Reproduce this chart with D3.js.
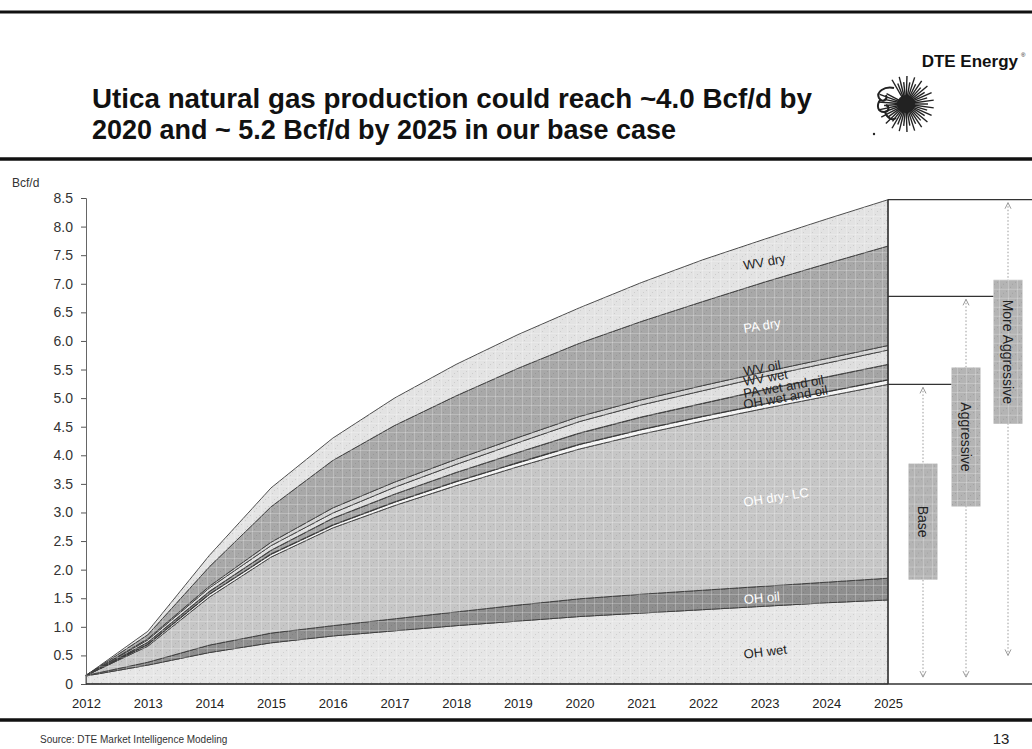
<!DOCTYPE html>
<html>
<head>
<meta charset="utf-8">
<title>Utica natural gas production</title>
<script src="https://d3js.org/d3.v7.min.js"></script>
<style>
  body { margin: 0; background: #fff; }
  svg { font-family: "Liberation Sans", Arial, sans-serif; }
  .title { font-size: 27px; font-weight: bold; fill: #111; }
  .rule { stroke: #111; }
  .y-axis text { font-size: 14px; fill: #333; }
  .x-axis text { font-size: 13px; fill: #222; }
  .series-label { font-size: 13px; }
  .box-label { font-size: 14px; fill: #222; }
</style>
</head>
<body>
<div id="chart"></div>
<script>
// ---- data (Bcf/d) ----
const years = [2012, 2013, 2014, 2015, 2016, 2017, 2018, 2019, 2020, 2021, 2022, 2023, 2024, 2025];
const seriesNames = ["OH wet", "OH oil", "OH dry- LC", "OH wet and oil", "PA wet and oil", "WV wet", "WV oil", "PA dry", "WV dry"];
const ohWet     = [0.14, 0.33, 0.55, 0.72, 0.84, 0.93, 1.02, 1.10, 1.18, 1.24, 1.30, 1.36, 1.42, 1.47];
const ohOil     = [0.01, 0.05, 0.13, 0.17, 0.18, 0.21, 0.24, 0.28, 0.31, 0.33, 0.34, 0.35, 0.36, 0.38];
const ohDryLC   = [0.00, 0.28, 0.84, 1.33, 1.71, 1.98, 2.21, 2.42, 2.62, 2.80, 2.96, 3.11, 3.25, 3.39];
const ohWetOil  = [0.00, 0.03, 0.05, 0.05, 0.05, 0.06, 0.07, 0.07, 0.08, 0.08, 0.08, 0.08, 0.08, 0.08];
const paWetOil  = [0.00, 0.04, 0.05, 0.07, 0.12, 0.14, 0.16, 0.18, 0.20, 0.22, 0.23, 0.25, 0.26, 0.27];
const wvWet     = [0.00, 0.04, 0.06, 0.08, 0.09, 0.12, 0.14, 0.17, 0.20, 0.21, 0.22, 0.23, 0.24, 0.25];
const wvOil     = [0.00, 0.02, 0.03, 0.06, 0.09, 0.09, 0.09, 0.09, 0.09, 0.09, 0.09, 0.08, 0.08, 0.08];
const paDry     = [0.00, 0.07, 0.34, 0.62, 0.83, 0.99, 1.11, 1.21, 1.28, 1.37, 1.47, 1.57, 1.66, 1.74];
const wvDry     = [0.00, 0.06, 0.20, 0.33, 0.39, 0.48, 0.55, 0.59, 0.62, 0.68, 0.73, 0.75, 0.78, 0.81];
const seriesValues = [ohWet, ohOil, ohDryLC, ohWetOil, paWetOil, wvWet, wvOil, paDry, wvDry];

const yTicks = [0, 0.5, 1, 1.5, 2, 2.5, 3, 3.5, 4, 4.5, 5, 5.5, 6, 6.5, 7, 7.5, 8, 8.5];

// 2025 scenario levels
const scenarios = ["Base", "Aggressive", "More Aggressive"];
const scenarioLevels = [5.24, 6.78, 8.47];

const titleLines = [
  "Utica natural gas production could reach ~4.0 Bcf/d by",
  "2020 and ~ 5.2 Bcf/d by 2025 in our base case"
];

// ---- styling / layout ----
const fills = ["#e6e6e6", "#8e8e8e", "#c6c6c6", "#f5f5f5", "#a4a4a4", "#dedede", "#d2d2d2", "#a8a8a8", "#e3e3e3"];
const titleWidths = [720, 584];
// label anchors: [year, value, rotation, colour]
const labelSpots = {
  "WV dry":         [2022.67, 7.24, -10, "#222"],
  "PA dry":         [2022.67, 6.14, -9,  "#fff"],
  "WV oil":         [2022.67, 5.39, -10, "#222"],
  "WV wet":         [2022.67, 5.21, -10, "#222"],
  "PA wet and oil": [2022.67, 5.00, -10, "#222"],
  "OH wet and oil": [2022.67, 4.81, -10, "#222"],
  "OH dry- LC":     [2022.67, 3.10, -9,  "#fff"],
  "OH oil":         [2022.67, 1.40, -5,  "#fff"],
  "OH wet":         [2022.67, 0.44, -7,  "#222"]
};

const width = 1032, height = 749;
const x = d3.scaleLinear().domain([2012, 2025]).range([86, 888]);
const y = d3.scaleLinear().domain([0, 8.5]).range([684, 198]);

const svg = d3.select("#chart").append("svg")
  .attr("width", width)
  .attr("height", height);

// texture like the scanned slide
const defs = svg.append("defs");
const grain = defs.append("pattern")
  .attr("id", "grain")
  .attr("patternUnits", "userSpaceOnUse")
  .attr("width", 9).attr("height", 9);
grain.append("path")
  .attr("d", "M0,0.5H9M0.5,0V9")
  .attr("stroke", "rgba(255,255,255,0.22)")
  .attr("stroke-width", 1);
grain.append("path")
  .attr("d", "M4,4h1v1h-1zM7,2h1v1h-1zM2,7h1v1h-1z")
  .attr("fill", "rgba(0,0,0,0.10)");

// ---- header ----
svg.append("line").attr("class", "rule")
  .attr("x1", 0).attr("x2", width).attr("y1", 12).attr("y2", 12)
  .attr("stroke-width", 3);
svg.append("line").attr("class", "rule")
  .attr("x1", 0).attr("x2", width).attr("y1", 159).attr("y2", 159)
  .attr("stroke-width", 3.5);
svg.append("line").attr("class", "rule")
  .attr("x1", 0).attr("x2", width).attr("y1", 720).attr("y2", 720)
  .attr("stroke-width", 3.5);

svg.selectAll(".title")
  .data(titleLines)
  .join("text")
  .attr("class", "title")
  .attr("x", 92)
  .attr("y", (d, i) => 108 + i * 31)
  .attr("textLength", (d, i) => titleWidths[i])
  .attr("lengthAdjust", "spacingAndGlyphs")
  .text(d => d);

svg.append("text")
  .attr("x", 1018).attr("y", 67)
  .attr("text-anchor", "end")
  .style("font-size", "17px").style("font-weight", "bold").style("fill", "#111")
  .text("DTE Energy");
svg.append("text")
  .attr("x", 1021).attr("y", 57)
  .style("font-size", "6px").style("fill", "#111")
  .text("®");

// sunburst logo
const logo = svg.append("g").attr("transform", "translate(906,104)");
d3.range(-120, 215, 8).forEach((a, i) => {
  const r = a * Math.PI / 180;
  const r1 = 7, r2 = i % 2 ? 22 : 28;
  logo.append("line")
    .attr("x1", Math.cos(r) * r1).attr("y1", Math.sin(r) * r1)
    .attr("x2", Math.cos(r) * r2).attr("y2", Math.sin(r) * r2)
    .attr("stroke", "#222").attr("stroke-width", 1.4);
});
logo.append("circle").attr("r", 9).attr("fill", "#222");
logo.append("path")
  .attr("d", "M-12,-16 C-22,-18 -30,-12 -27,-6 C-24,-1 -18,-4 -20,-9 M-26,-4 C-30,2 -28,8 -22,8 C-17,8 -16,3 -20,1 M-21,8 C-19,14 -14,17 -10,14")
  .attr("fill", "none").attr("stroke", "#222").attr("stroke-width", 2);
svg.append("circle").attr("cx", 874).attr("cy", 134).attr("r", 1.2).attr("fill", "#222");

// ---- stacked areas ----
const table = years.map((yr, i) => {
  const row = { year: yr };
  seriesNames.forEach((k, j) => { row[k] = seriesValues[j][i]; });
  return row;
});
const stacked = d3.stack().keys(seriesNames)(table);

const area = d3.area()
  .x(d => x(d.data.year))
  .y0(d => y(d[0]))
  .y1(d => y(d[1]));

svg.append("g")
  .selectAll("path")
  .data(stacked)
  .join("path")
  .attr("d", area)
  .attr("fill", (d, i) => fills[i])
  .attr("stroke", "#3a3a3a")
  .attr("stroke-width", (d, i) => i === 4 ? 1.4 : 0.9)
  .attr("stroke-linejoin", "round");

// grain on top of the whole filled region
svg.append("path")
  .datum(stacked[stacked.length - 1])
  .attr("d", d3.area().x(d => x(d.data.year)).y0(y(0)).y1(d => y(d[1])))
  .attr("fill", "url(#grain)")
  .attr("pointer-events", "none");

// series labels
svg.append("g")
  .selectAll("text")
  .data(seriesNames.concat().reverse())
  .join("text")
  .attr("class", "series-label")
  .attr("transform", d => {
    const s = labelSpots[d];
    return `translate(${x(s[0])},${y(s[1])}) rotate(${s[2]})`;
  })
  .style("fill", d => labelSpots[d][3])
  .text(d => d);

// ---- axes ----
const yAxis = svg.append("g")
  .attr("class", "y-axis")
  .attr("transform", `translate(${x(2012)},0)`)
  .call(d3.axisLeft(y)
    .tickValues(yTicks)
    .tickFormat(d => d === 0 ? "0" : d3.format(".1f")(d))
    .tickSize(5)
    .tickPadding(8));
yAxis.select(".domain").attr("stroke", "#666");
yAxis.selectAll(".tick line").attr("stroke", "#555");
yAxis.selectAll("text").style("font-family", "inherit");

const xAxis = svg.append("g")
  .attr("class", "x-axis")
  .attr("transform", `translate(0,${y(0)})`)
  .call(d3.axisBottom(x)
    .tickValues(years)
    .tickFormat(d3.format("d"))
    .tickSize(0)
    .tickPadding(15));
xAxis.select(".domain").remove();
xAxis.selectAll("text").style("font-family", "inherit");

svg.append("line")
  .attr("x1", x(2012)).attr("x2", width)
  .attr("y1", y(0)).attr("y2", y(0))
  .attr("stroke", "#333").attr("stroke-width", 1.3);

svg.append("text")
  .attr("x", 12).attr("y", 187)
  .style("font-size", "12px").style("fill", "#333")
  .text("Bcf/d");

// ---- scenario panel on the right ----
const panelX = x(2025);
const arrowX = [35, 78, 120].map(o => panelX + o);
const boxW = 29;
const boxMid = [2.84, 4.32, 5.81];
const boxH = [116, 139, 144];
const arrowLow = [0.12, 0.12, 0.5];

svg.append("line")
  .attr("x1", panelX).attr("x2", panelX)
  .attr("y1", y(scenarioLevels[2])).attr("y2", y(0))
  .attr("stroke", "#333").attr("stroke-width", 1.4);

scenarios.forEach((s, i) => {
  const lineEnd = i < scenarios.length - 1 ? arrowX[i + 1] - boxW / 2 : width;
  svg.append("line")
    .attr("x1", panelX).attr("x2", lineEnd)
    .attr("y1", y(scenarioLevels[i])).attr("y2", y(scenarioLevels[i]))
    .attr("stroke", "#333").attr("stroke-width", 1.3);
});

const arrowG = svg.append("g")
  .attr("stroke", "#9a9a9a").attr("fill", "none").attr("stroke-width", 1);
scenarios.forEach((s, i) => {
  const ax = arrowX[i];
  const top = y(scenarioLevels[i]) + 3;
  const bot = y(arrowLow[i]);
  arrowG.append("line")
    .attr("x1", ax).attr("x2", ax).attr("y1", top).attr("y2", bot)
    .attr("stroke-dasharray", "1.5,2");
  arrowG.append("path").attr("d", `M${ax - 3},${top + 6}L${ax},${top}L${ax + 3},${top + 6}`);
  arrowG.append("path").attr("d", `M${ax - 3},${bot - 6}L${ax},${bot}L${ax + 3},${bot - 6}`);
});

const boxes = svg.append("g")
  .selectAll("g")
  .data(scenarios)
  .join("g")
  .attr("transform", (d, i) => `translate(${arrowX[i]},${y(boxMid[i])})`);
boxes.append("rect")
  .attr("x", -boxW / 2).attr("width", boxW)
  .attr("y", (d, i) => -boxH[i] / 2).attr("height", (d, i) => boxH[i])
  .attr("fill", "#b4b4b4");
boxes.append("rect")
  .attr("x", -boxW / 2).attr("width", boxW)
  .attr("y", (d, i) => -boxH[i] / 2).attr("height", (d, i) => boxH[i])
  .attr("fill", "url(#grain)");
boxes.append("text")
  .attr("class", "box-label")
  .attr("transform", "rotate(90)")
  .attr("text-anchor", "middle")
  .attr("dy", "0.35em")
  .text(d => d);

// ---- footer ----
svg.append("text")
  .attr("x", 40).attr("y", 743)
  .style("font-size", "10px").style("fill", "#333")
  .text("Source: DTE Market Intelligence Modeling");
svg.append("text")
  .attr("x", 1001).attr("y", 744)
  .attr("text-anchor", "middle")
  .style("font-size", "15px").style("fill", "#222")
  .text("13");
</script>
</body>
</html>
